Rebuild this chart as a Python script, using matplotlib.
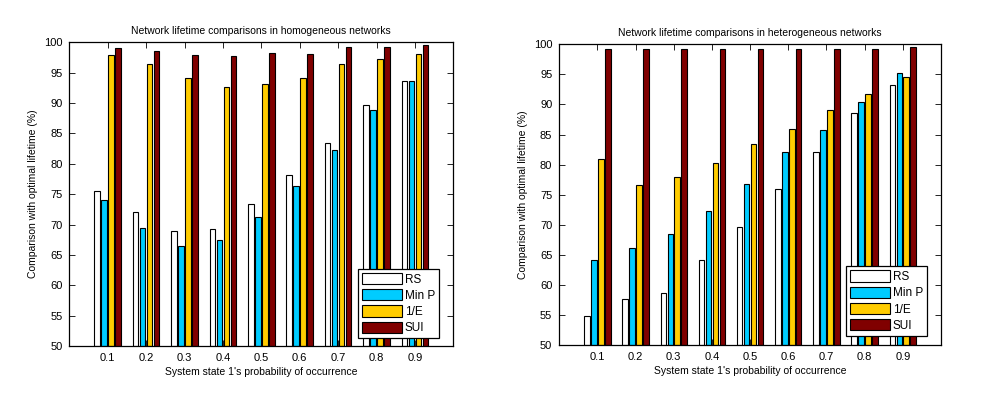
import numpy as np
import matplotlib
matplotlib.use("Agg")
import matplotlib.pyplot as plt

# x axis: probability of system state 1
probs = ['0.1', '0.2', '0.3', '0.4', '0.5', '0.6', '0.7', '0.8', '0.9']
methods = ['RS', 'Min P', '1/E', 'SUI']
colors = ['#FFFFFF', '#00CCFF', '#FFCC00', '#800000']

# homogeneous networks (%)
homo_rs = [75.5, 72.0, 68.9, 69.3, 73.3, 78.1, 83.4, 89.6, 93.7]
homo_minp = [74.1, 69.5, 66.5, 67.4, 71.3, 76.3, 82.2, 88.8, 93.7]
homo_inve = [97.9, 96.5, 94.2, 92.7, 93.2, 94.2, 96.4, 97.2, 98.0]
homo_sui = [99.0, 98.6, 97.9, 97.7, 98.3, 98.0, 99.3, 99.2, 99.5]

# heterogeneous networks (%)
hetero_rs = [54.8, 57.6, 58.6, 64.1, 69.6, 75.9, 82.1, 88.5, 93.2]
hetero_minp = [64.1, 66.1, 68.4, 72.3, 76.7, 82.1, 85.7, 90.4, 95.3]
hetero_inve = [80.9, 76.6, 77.9, 80.2, 83.4, 85.9, 89.0, 91.7, 94.5]
hetero_sui = [99.3, 99.3, 99.2, 99.3, 99.3, 99.3, 99.3, 99.2, 99.5]

plt.rcParams['font.family'] = ['Liberation Sans', 'DejaVu Sans']
plt.rcParams['font.size'] = 7.5


def grouped_bars(ax, series, title, leg_anchor):
    x = np.arange(1, len(probs) + 1)
    group_w = min(0.8, 4 / (4 + 1.5))
    pitch = group_w / 4
    for i, (vals, name, col) in enumerate(zip(series, methods, colors)):
        offs = (i - 1.5) * pitch
        ax.bar(x + offs, np.array(vals) - 50, bottom=50, width=pitch * 0.8,
               color=col, edgecolor='black', linewidth=0.8, label=name)
    ax.set_xlim(0, 10)
    ax.set_ylim(50, 100)
    ax.set_xticks(x)
    ax.set_xticklabels(probs)
    ax.set_yticks(np.arange(50, 101, 5))
    ax.tick_params(direction='in', top=True, right=True, length=4, width=0.6,
                   labelsize=8, pad=5)
    for s in ax.spines.values():
        s.set_linewidth(0.9)
    ax.set_title(title, fontsize=7.5, pad=6)
    ax.set_xlabel("System state 1's probability of occurrence", fontsize=7.5, labelpad=3)
    ax.set_ylabel('Comparison with optimal lifetime (%)', fontsize=7.5, labelpad=4)
    leg = ax.legend(loc='lower right', bbox_to_anchor=leg_anchor, fontsize=8.5,
                    frameon=True, fancybox=False, edgecolor='black', framealpha=1,
                    handlelength=3.4, handleheight=1.1, labelspacing=0.3,
                    borderpad=0.35, handletextpad=0.2, borderaxespad=0)
    leg.get_frame().set_linewidth(0.9)


fig = plt.figure(figsize=(9.89, 3.96), dpi=100)
ax1 = fig.add_axes([0.0701, 0.1263, 0.3883, 0.7669])
ax2 = fig.add_axes([0.5655, 0.1288, 0.3859, 0.7593])

grouped_bars(ax1, [homo_rs, homo_minp, homo_inve, homo_sui],
             'Network lifetime comparisons in homogeneous networks', (0.963, 0.025))
grouped_bars(ax2, [hetero_rs, hetero_minp, hetero_inve, hetero_sui],
             'Network lifetime comparisons in heterogeneous networks', (0.964, 0.030))

fig.savefig('out.png', dpi=100)
